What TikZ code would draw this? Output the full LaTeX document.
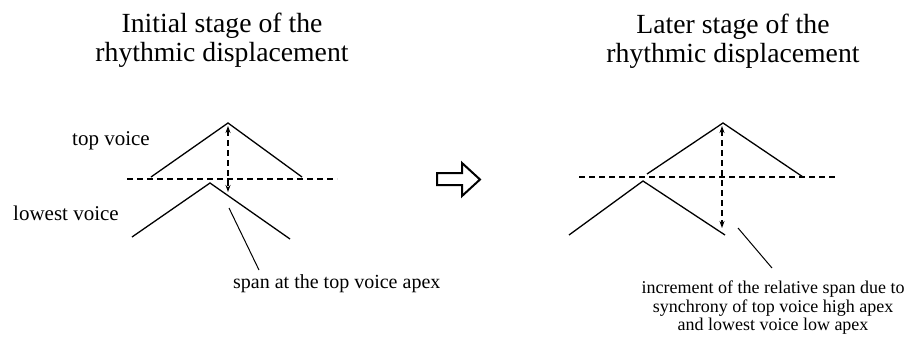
\documentclass[tikz,border=0pt]{standalone}
\usepackage{fontspec}
\setmainfont{Liberation Serif}
\usetikzlibrary{arrows.meta}
\tikzset{
  voiceline/.style={line width=1.3pt},
  levelline/.style={line width=1.1pt, dash pattern=on 6pt off 4pt},
  spanarrow/.style={levelline, <->, >={Stealth[length=7pt,width=5pt]}},
  pointer/.style={line width=1pt},
  lbl/.style={inner sep=0pt, font=\fontsize{21}{23}\selectfont},
  notelbl/.style={inner sep=0pt, align=center, font=\fontsize{18}{18.5}\selectfont},
  titlelbl/.style={inner sep=0pt, align=center, font=\fontsize{27.7}{28.5}\selectfont},
}
\begin{document}
\begin{tikzpicture}[x=1pt, y=-1pt]
  \useasboundingbox (0, 0) rectangle (912, 341);
  %\draw[lightgray] (0, 0) grid[step=50] (912, 341);

  % titles
  \node[titlelbl, anchor=north] (titleA) at (222, 13) {Initial stage of the\\rhythmic displacement};
  \node[titlelbl, anchor=north] (titleB) at (733, 14) {Later stage of the\\rhythmic displacement};

  % initial stage
  \coordinate (topA) at (228, 123);
  \coordinate (lowA) at (210, 183);
  \draw[voiceline] (151, 177) -- (topA) -- (302, 177);
  \draw[voiceline] (132, 237) -- (lowA) -- (290, 239);
  \draw[levelline] (127, 179) -- (337, 179);
  \coordinate (spanA1) at (228, 126);
  \coordinate (spanA2) at (228, 192);
  \draw[spanarrow] (spanA1) -- (spanA2);
  \node[lbl, anchor=base west] (topvoice) at (72, 145) {top voice};
  \node[lbl, anchor=base west] (lowvoice) at (13, 220) {lowest voice};
  \node[lbl, anchor=base west, font=\fontsize{20}{22}\selectfont] (spanlbl) at (233, 288) {span at the top voice apex};
  \coordinate (ptrA) at (229, 208);
  \coordinate (ptrA2) at (259, 270);
  \draw[pointer] (ptrA) -- (ptrA2);

  % block arrow
  \draw[line width=2pt, line join=miter] (437, 173) -- (462, 173) -- (462, 163) -- (480, 179.5)
    -- (462, 196) -- (462, 185) -- (437, 185) -- cycle;

  % later stage
  \coordinate (topB) at (723, 123);
  \coordinate (lowB) at (643, 181);
  \draw[voiceline] (647, 174) -- (topB) -- (803, 177);
  \draw[voiceline] (569, 235) -- (lowB) -- (725, 235);
  \draw[levelline] (579, 177) -- (836, 177);
  \coordinate (spanB1) at (722, 126);
  \coordinate (spanB2) at (722, 228);
  \draw[spanarrow] (spanB1) -- (spanB2);
  \node[notelbl, anchor=north] (incr) at (773, 281) {increment of the relative span due to\\synchrony of top voice high apex\\and lowest voice low apex};
  \coordinate (ptrB) at (738, 228);
  \coordinate (ptrB2) at (772, 268);
  \draw[pointer] (ptrB) -- (ptrB2);
\end{tikzpicture}
\end{document}
